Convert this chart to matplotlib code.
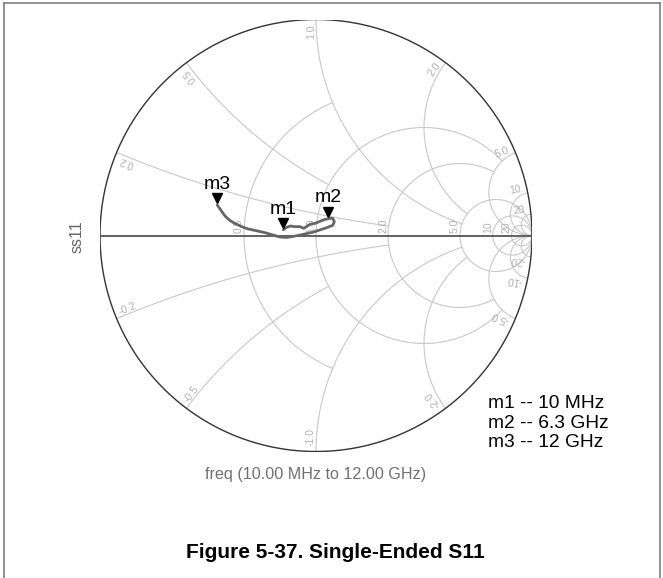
import numpy as np
import matplotlib
matplotlib.use("Agg")
import matplotlib.pyplot as plt
from matplotlib.lines import Line2D
from matplotlib.transforms import offset_copy

plt.rcParams["font.family"] = ["Liberation Sans", "DejaVu Sans"]

# Reflection coefficient trace (real / imaginary parts), 10 MHz -> 12 GHz
s11_re = [-0.151, -0.139, -0.120, -0.097, -0.074, -0.056, -0.040, -0.025,
          -0.005, 0.015, 0.034, 0.057, 0.077, 0.085, 0.077, 0.049, 0.019,
          -0.012, -0.043, -0.074, -0.105, -0.136, -0.167, -0.198, -0.236,
          -0.275, -0.313, -0.344, -0.375, -0.398, -0.421, -0.441, -0.457]
s11_im = [0.026, 0.036, 0.044, 0.041, 0.041, 0.033, 0.044, 0.053,
          0.056, 0.064, 0.072, 0.078, 0.080, 0.064, 0.047, 0.036, 0.026,
          0.016, 0.009, 0.002, -0.004, -0.009, -0.007, 0.002, 0.013,
          0.022, 0.030, 0.041, 0.056, 0.069, 0.090, 0.118, 0.141]

marker_names = ["m1", "m2", "m3"]
marker_index = [0, 11, 32]
marker_freqs = ["10 MHz", "6.3 GHz", "12 GHz"]

# Smith chart grid: resistance circles with their reactance extent,
# reactance arcs with their resistance extent
r_circles = [0.5, 1.0, 2.0, 5.0, 10.0, 20.0]
r_circle_xmax = [1.0, 5.0, 5.0, np.inf, np.inf, np.inf]
x_arcs = [0.2, 0.5, 1.0, 2.0, 5.0, 10.0, 20.0]
x_arc_rmax = [2.0, 1.0, 5.0, 5.0, np.inf, np.inf, np.inf]
r_labels = ["0.5", "1.0", "2.0", "5.0", "10", "20"]
x_labels = ["0.2", "0.5", "1.0", "2.0", "5.0", "10", "20"]

W, H = 663, 578
CX, CY, RAD = 316, 235.5, 216

GRID = "#c8c8c8"
GRID_TXT = "#b0b0b0"

fig = plt.figure(figsize=(W / 100, H / 100), dpi=100)
ax = fig.add_axes([(CX - RAD) / W, (H - CY - RAD) / H, 2 * RAD / W, 2 * RAD / H])
ax.set_xlim(-1, 1)
ax.set_ylim(-1, 1)
ax.axis("off")


def gamma(z):
    return (z - 1) / (z + 1)


# resistance circles
for r, xmax in zip(r_circles, r_circle_xmax):
    tmax = 2 * np.arctan(xmax / (r + 1)) if np.isfinite(xmax) else np.pi * 0.9999
    t = np.linspace(-tmax, tmax, 600)
    g = gamma(r + 1j * (r + 1) * np.tan(t / 2))
    ax.plot(g.real, g.imag, color=GRID, lw=0.8, zorder=1)

# reactance arcs
for xv, rmax in zip(x_arcs, x_arc_rmax):
    for sgn in (1, -1):
        x = sgn * xv
        th0 = np.arctan(xv)
        th1 = np.arctan(xv / (rmax + 1)) if np.isfinite(rmax) else 1e-4
        th = np.linspace(th0, th1, 600)
        r = xv / np.tan(th) - 1
        r[0] = 0.0
        g = gamma(r + 1j * x)
        ax.plot(g.real, g.imag, color=GRID, lw=0.8, zorder=1)

# outer circle and real axis
phi = np.linspace(0, 2 * np.pi, 800)
ax.plot(np.cos(phi), np.sin(phi), color="#333333", lw=1.0, zorder=2)
ax.plot([-1, 1], [0, 0], color="#555555", lw=1.3, zorder=2)

# labels on the real axis
for r, lab in zip(r_circles, r_labels):
    g = gamma(r)
    ax.text(g, 0.012, lab, rotation=90, ha="left", va="bottom",
            rotation_mode="anchor", fontsize=7.5, color=GRID_TXT, zorder=1)

# labels on the rim
for xv, lab in zip(x_arcs, x_labels):
    for sgn in (1, -1):
        x = sgn * xv
        g0 = gamma(1j * x)
        d = 2 / (1 + 1j * x) ** 2          # d(gamma)/dr at r = 0
        if sgn > 0:
            u = -d / abs(d)
            pos = g0 - 0.025 * u
            ha = "right"
            text = lab
        else:
            u = d / abs(d)
            pos = g0 + 0.025 * u
            ha = "left"
            text = "-" + lab
        ang = np.degrees(np.angle(u))
        ax.text(pos.real, pos.imag, text, rotation=ang, ha=ha, va="bottom",
                rotation_mode="anchor", fontsize=7.5, color=GRID_TXT, zorder=1)

# trace
ax.plot(s11_re, s11_im, color="#666666", lw=2.0, zorder=4,
        solid_capstyle="round", solid_joinstyle="round")

# markers
tri_tr = offset_copy(ax.transData, fig=fig, x=0, y=5, units="points")
for name, idx in zip(marker_names, marker_index):
    ax.plot(s11_re[idx], s11_im[idx], marker="v", color="black", ms=7,
            transform=tri_tr, zorder=5)
    ax.annotate(name, (s11_re[idx], s11_im[idx]), xytext=(0, 15),
                textcoords="offset points", ha="center", va="center",
                fontsize=14, color="black", zorder=5)

# marker legend
for i, (name, f) in enumerate(zip(marker_names, marker_freqs)):
    fig.text(488 / W, 1 - (404 + 19.3 * i) / H, f"{name} -- {f}",
             ha="left", va="center", fontsize=13.8, color="black")

# axis captions
fig.text(77 / W, 1 - 237 / H, "ss11", rotation=90, ha="center", va="center",
         fontsize=11.5, color="#666666")
fig.text(316 / W, 1 - 475 / H, "freq (10.00 MHz to 12.00 GHz)", ha="center",
         va="center", fontsize=11.6, color="#707070")

fig.text(335 / W, 1 - 553 / H, "Figure 5-37. Single-Ended S11", ha="center",
         va="center", fontsize=15, fontweight="bold", color="black")

# frame
for xs, ys in [([4, 660], [3, 3]), ([4, 4], [3, 578]), ([660, 660], [3, 578])]:
    fig.add_artist(Line2D([x / W for x in xs], [1 - y / H for y in ys],
                          color="#808080", lw=1.2))

fig.savefig("out.png", dpi=100)
